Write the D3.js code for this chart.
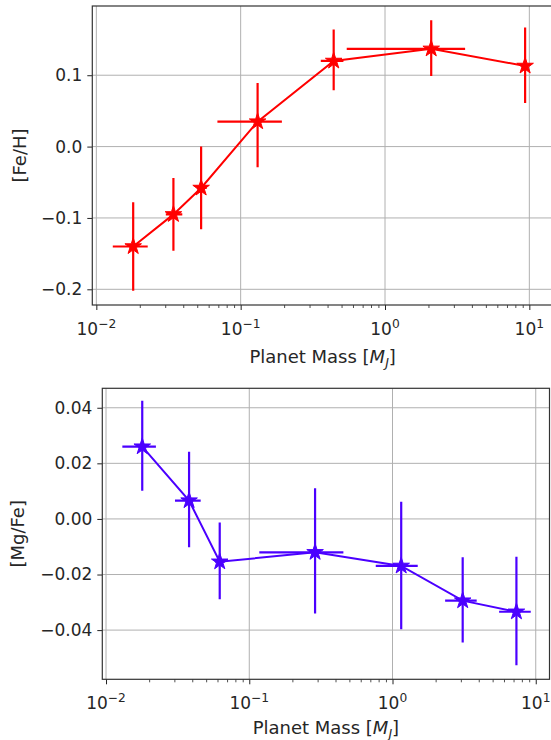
<!DOCTYPE html>
<html>
<head>
<meta charset="utf-8">
<script src="https://cdn.jsdelivr.net/npm/d3@7"></script>
<style>
  html, body { margin: 0; padding: 0; background: #fff; }
  svg { display: block; font-family: "DejaVu Sans", sans-serif; }
</style>
</head>
<body>
<svg id="chart" width="551" height="740"></svg>
<script>
// ---------- data: top panel [Fe/H] ----------
const feMass     = [0.018, 0.0342, 0.0532, 0.131, 0.441, 2.09, 9.35];
const feMassLo   = [0.0130, 0.0303, 0.0497, 0.069, 0.359, 0.543, 8.9];
const feMassHi   = [0.0227, 0.0394, 0.0582, 0.193, 0.515, 3.59, 9.8];
const feVal      = [-0.140, -0.095, -0.058, 0.035, 0.120, 0.137, 0.113];
const feValLo    = [-0.202, -0.146, -0.116, -0.029, 0.079, 0.099, 0.061];
const feValHi    = [-0.078, -0.044, 0.000, 0.089, 0.164, 0.177, 0.167];
const feYTicks   = [-0.2, -0.1, 0.0, 0.1];

// ---------- data: bottom panel [Mg/Fe] ----------
const mgMass     = [0.0179, 0.038, 0.0622, 0.288, 1.15, 3.09, 7.33];
const mgMassLo   = [0.0130, 0.0303, 0.0577, 0.1175, 0.764, 2.33, 5.55];
const mgMassHi   = [0.0223, 0.0458, 0.0678, 0.454, 1.50, 3.87, 9.23];
const mgVal      = [0.0260, 0.0066, -0.0154, -0.0120, -0.0169, -0.0294, -0.0334];
const mgValLo    = [0.0101, -0.0102, -0.0289, -0.034, -0.0397, -0.0445, -0.0526];
const mgValHi    = [0.0425, 0.0242, -0.0013, 0.011, 0.0062, -0.0138, -0.0136];
const mgYTicks   = [-0.04, -0.02, 0.00, 0.02, 0.04];

const xTickExps  = [-2, -1, 0, 1];

const FS = 17;
const LFS = 18;
const svg = d3.select("#chart");

function panel(cfg) {
  const g = svg.append("g");
  const x = d3.scaleLog().domain(cfg.xDomain).range([cfg.left, cfg.right]);
  const y = d3.scaleLinear().domain(cfg.yDomain).range([cfg.bottom, cfg.top]);

  const clipId = "clip" + cfg.id;
  svg.append("clipPath").attr("id", clipId).append("rect")
    .attr("x", cfg.left).attr("y", cfg.top)
    .attr("width", cfg.right - cfg.left).attr("height", cfg.bottom - cfg.top);

  // grid
  const grid = g.append("g").attr("stroke", "#b0b0b0").attr("stroke-width", 1);
  xTickExps.forEach(e => {
    const v = Math.pow(10, e);
    if (v < cfg.xDomain[0] || v > cfg.xDomain[1]) return;
    grid.append("line").attr("x1", x(v)).attr("x2", x(v))
      .attr("y1", cfg.top).attr("y2", cfg.bottom);
  });
  cfg.yTicks.forEach(v => {
    grid.append("line").attr("x1", cfg.left).attr("x2", cfg.right)
      .attr("y1", y(v)).attr("y2", y(v));
  });

  // x axis
  const minorTicks = [];
  for (let e = -3; e <= 1; e++) {
    for (let k = 2; k <= 9; k++) {
      const v = k * Math.pow(10, e);
      if (v > cfg.xDomain[0] && v < cfg.xDomain[1]) minorTicks.push(v);
    }
  }
  const majorTicks = xTickExps.map(e => Math.pow(10, e));
  const xAxis = d3.axisBottom(x).tickValues(majorTicks).tickSize(5).tickPadding(4)
    .tickFormat(() => "");
  const xg = g.append("g").attr("transform", `translate(0,${cfg.bottom})`).call(xAxis);
  xg.select(".domain").remove();
  xg.selectAll("line").attr("stroke", "#222").attr("stroke-width", 1);
  const xMinor = d3.axisBottom(x).tickValues(minorTicks).tickSize(3).tickFormat(() => "");
  const xmg = g.append("g").attr("transform", `translate(0,${cfg.bottom})`).call(xMinor);
  xmg.select(".domain").remove();
  xmg.selectAll("line").attr("stroke", "#222").attr("stroke-width", 0.8);

  xTickExps.forEach(e => {
    const t = g.append("text").attr("x", x(Math.pow(10, e)))
      .attr("y", cfg.bottom + 30).attr("text-anchor", "middle")
      .attr("font-size", FS).attr("fill", "#262626");
    t.append("tspan").text("10");
    t.append("tspan").attr("dy", -7).attr("font-size", FS * 0.72)
      .text(e < 0 ? "\u2212" + Math.abs(e) : String(e));
  });

  // y axis
  const yAxis = d3.axisLeft(y).tickValues(cfg.yTicks).tickSize(5).tickPadding(5)
    .tickFormat(v => d3.format(cfg.yFmt)(v).replace("-", "\u2212"));
  const yg = g.append("g").attr("transform", `translate(${cfg.left},0)`).call(yAxis);
  yg.select(".domain").remove();
  yg.selectAll("line").attr("stroke", "#222").attr("stroke-width", 1);
  yg.selectAll("text").attr("font-size", FS).attr("fill", "#262626")
    .attr("font-family", "DejaVu Sans, sans-serif");

  // frame
  g.append("rect").attr("x", cfg.left).attr("y", cfg.top)
    .attr("width", cfg.right - cfg.left).attr("height", cfg.bottom - cfg.top)
    .attr("fill", "none").attr("stroke", "#333").attr("stroke-width", 1.2);

  // labels
  const xl = g.append("text").attr("x", (cfg.left + cfg.right) / 2)
    .attr("y", cfg.xLabelY).attr("text-anchor", "middle")
    .attr("font-size", LFS).attr("fill", "#262626");
  xl.append("tspan").text("Planet Mass [");
  xl.append("tspan").attr("font-style", "italic").text("M");
  xl.append("tspan").attr("font-style", "italic").attr("font-size", LFS * 0.7)
    .attr("dy", 4).text("J");
  xl.append("tspan").attr("dy", -4).text("]");

  g.append("text")
    .attr("transform", `translate(${cfg.yLabelX},${(cfg.top + cfg.bottom) / 2}) rotate(-90)`)
    .attr("text-anchor", "middle").attr("font-size", LFS).attr("fill", "#262626")
    .text(cfg.yLabel);

  // data
  const data = cfg.mass.map((m, i) => ({
    m, mlo: cfg.massLo[i], mhi: cfg.massHi[i],
    v: cfg.val[i], vlo: cfg.valLo[i], vhi: cfg.valHi[i]
  }));
  const dg = g.append("g").attr("clip-path", `url(#${clipId})`);
  dg.append("path").datum(data)
    .attr("d", d3.line().x(d => x(d.m)).y(d => y(d.v)))
    .attr("fill", "none").attr("stroke", cfg.color).attr("stroke-width", 2);
  dg.selectAll(".ex").data(data).enter().append("line")
    .attr("x1", d => x(d.mlo)).attr("x2", d => x(d.mhi))
    .attr("y1", d => y(d.v)).attr("y2", d => y(d.v))
    .attr("stroke", cfg.color).attr("stroke-width", 2.2);
  dg.selectAll(".ey").data(data).enter().append("line")
    .attr("x1", d => x(d.m)).attr("x2", d => x(d.m))
    .attr("y1", d => y(d.vlo)).attr("y2", d => y(d.vhi))
    .attr("stroke", cfg.color).attr("stroke-width", 2.2);
  dg.selectAll(".mk").data(data).enter().append("path")
    .attr("transform", d => `translate(${x(d.m)},${y(d.v)})`)
    .attr("d", d3.symbol().type(d3.symbolStar).size(85))
    .attr("fill", cfg.color).attr("stroke", cfg.color).attr("stroke-width", 1);
}

panel({
  id: "fe", left: 92.3, right: 553, top: 6, bottom: 305,
  xDomain: [Math.pow(10, -2.028), Math.pow(10, 1.164)],
  yDomain: [-0.222, 0.197], yTicks: feYTicks, yFmt: ".1f",
  mass: feMass, massLo: feMassLo, massHi: feMassHi,
  val: feVal, valLo: feValLo, valHi: feValHi,
  color: "#ff0000", yLabel: "[Fe/H]", xLabelY: 363, yLabelX: 26
});

panel({
  id: "mg", left: 102.3, right: 549.5, top: 388.3, bottom: 679.3,
  xDomain: [Math.pow(10, -2.026), Math.pow(10, 1.096)],
  yDomain: [-0.0577, 0.047], yTicks: mgYTicks, yFmt: ".2f",
  mass: mgMass, massLo: mgMassLo, massHi: mgMassHi,
  val: mgVal, valLo: mgValLo, valHi: mgValHi,
  color: "#4b00ff", yLabel: "[Mg/Fe]", xLabelY: 734, yLabelX: 24
});
</script>
</body>
</html>
